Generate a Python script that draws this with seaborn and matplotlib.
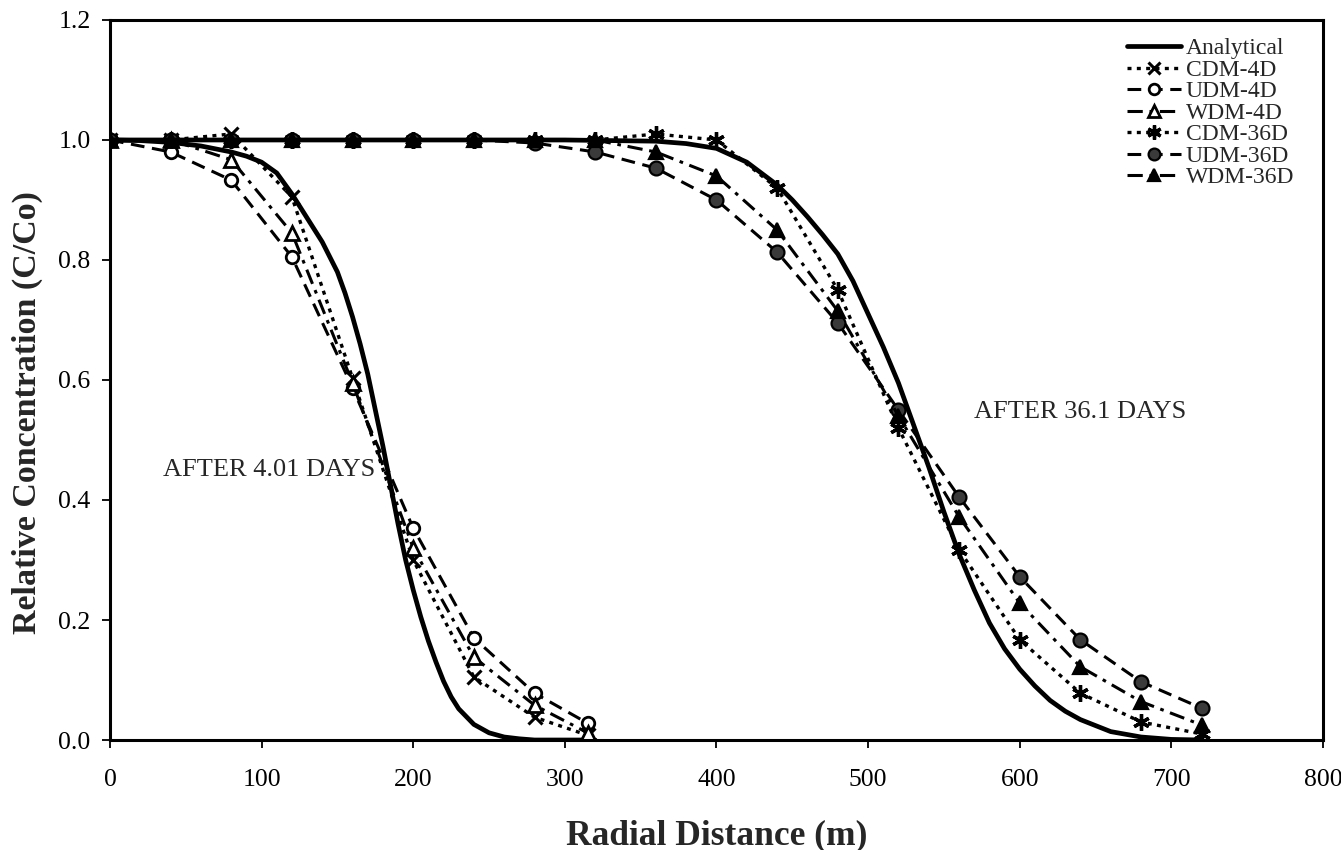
import matplotlib
matplotlib.use("Agg")
import matplotlib.pyplot as plt
import pandas as pd
import seaborn as sns

# Radial distances (m) of the numerical solution nodes
x_4d = [0, 40, 80, 120, 160, 200, 240, 280, 315]
x_36d = [0, 40, 80, 120, 160, 200, 240, 280, 320, 360,
         400, 440, 480, 520, 560, 600, 640, 680, 720]

# Numerical schemes after 4.01 days
cdm_4d = [1.0, 1.0, 1.01, 0.905, 0.603, 0.30, 0.105, 0.038, 0.008]
udm_4d = [1.0, 0.98, 0.933, 0.805, 0.587, 0.353, 0.17, 0.078, 0.028]
wdm_4d = [1.0, 1.0, 0.967, 0.845, 0.595, 0.32, 0.138, 0.058, 0.012]

# Numerical schemes after 36.1 days
cdm_36d = [1.0, 1.0, 1.0, 1.0, 1.0, 1.0, 1.0, 1.0, 1.0, 1.01,
           1.0, 0.92, 0.75, 0.52, 0.317, 0.167, 0.078, 0.03, 0.01]
udm_36d = [1.0, 1.0, 1.0, 1.0, 1.0, 1.0, 1.0, 0.995, 0.98, 0.953,
           0.90, 0.813, 0.695, 0.55, 0.405, 0.272, 0.167, 0.097, 0.053]
wdm_36d = [1.0, 1.0, 1.0, 1.0, 1.0, 1.0, 1.0, 1.0, 1.0, 0.98,
           0.94, 0.85, 0.715, 0.54, 0.372, 0.228, 0.122, 0.064, 0.025]

# Analytical solution profiles
ana_x_4d = [0, 20, 40, 60, 80, 90, 100, 110, 120, 130, 140, 150, 155, 160,
            165, 170, 175, 180, 185, 190, 195, 200, 205, 210, 215, 220, 225,
            230, 240, 250, 260, 270, 280, 300, 320]
ana_4d = [1.0, 0.999, 0.996, 0.99, 0.98, 0.973, 0.963, 0.945, 0.91, 0.87,
          0.83, 0.78, 0.745, 0.705, 0.66, 0.61, 0.55, 0.49, 0.425, 0.36,
          0.30, 0.25, 0.205, 0.165, 0.13, 0.098, 0.072, 0.052, 0.026, 0.012,
          0.005, 0.002, 0.0, 0.0, 0.0]
ana_x_36d = [0, 100, 200, 300, 360, 380, 400, 420, 440, 450, 460, 470, 480,
             490, 500, 510, 520, 530, 540, 550, 560, 570, 580, 590, 600, 610,
             620, 630, 640, 660, 680, 700, 720]
ana_36d = [1.0, 1.0, 1.0, 1.0, 0.998, 0.994, 0.986, 0.963, 0.925, 0.90,
           0.872, 0.842, 0.81, 0.765, 0.71, 0.655, 0.595, 0.525, 0.455, 0.38,
           0.31, 0.25, 0.195, 0.152, 0.118, 0.09, 0.066, 0.048, 0.034, 0.014,
           0.005, 0.001, 0.0]

x_ticks = [0, 100, 200, 300, 400, 500, 600, 700, 800]
y_ticks = [0.0, 0.2, 0.4, 0.6, 0.8, 1.0, 1.2]

sns.set_theme(style="ticks")
plt.rcParams["font.family"] = ["Liberation Serif", "DejaVu Serif"]

fig = plt.figure(figsize=(13.41, 8.5), dpi=100)
ax = fig.add_axes([0.082, 0.1294, 0.9046, 0.8471])

dot = (0, (1.2, 1.6))
dash = (0, (4.5, 2.5))
dashdot = (0, (5, 2.2, 1.2, 2.2))
asterisk = (6, 2, 0)

common = dict(color="black", markeredgecolor="black")
series = [
    ("Analytical", ana_x_4d, ana_4d, dict(linestyle="-", linewidth=3.4)),
    ("CDM-4D", x_4d, cdm_4d, dict(linestyle=dot, linewidth=2.4, marker="x",
                                  markersize=10, markeredgewidth=2.2)),
    ("UDM-4D", x_4d, udm_4d, dict(linestyle=dash, linewidth=2.2, marker="o",
                                  markersize=9, markeredgewidth=2.0,
                                  markerfacecolor="white")),
    ("WDM-4D", x_4d, wdm_4d, dict(linestyle=dashdot, linewidth=2.2, marker="^",
                                  markersize=10, markeredgewidth=2.0,
                                  markerfacecolor="white")),
    ("CDM-36D", x_36d, cdm_36d, dict(linestyle=dot, linewidth=2.4,
                                     marker=asterisk, markersize=12,
                                     markeredgewidth=2.4)),
    ("UDM-36D", x_36d, udm_36d, dict(linestyle=dash, linewidth=2.2, marker="o",
                                     markersize=10, markeredgewidth=1.6,
                                     markerfacecolor="#3a3a3a")),
    ("WDM-36D", x_36d, wdm_36d, dict(linestyle=dashdot, linewidth=2.2,
                                     marker="^", markersize=10,
                                     markeredgewidth=1.6,
                                     markerfacecolor="black")),
]

handles = {}
for name, xs, ys, style in series:
    n_before = len(ax.get_lines())
    df = pd.DataFrame({"r": xs, "c": ys})
    sns.lineplot(data=df, x="r", y="c", ax=ax, sort=False, legend=False,
                 **common, **style)
    handles[name] = ax.get_lines()[n_before]

# Second analytical profile (shares the legend entry)
df_a36 = pd.DataFrame({"r": ana_x_36d, "c": ana_36d})
sns.lineplot(data=df_a36, x="r", y="c", ax=ax, sort=False, legend=False,
             linestyle="-", linewidth=3.4, **common)

ax.set_xlim(0, 800)
ax.set_ylim(0.0, 1.2)
ax.set_xticks(x_ticks)
ax.set_yticks(y_ticks)
ax.set_xticklabels([f"{v:d}" for v in x_ticks])
ax.set_yticklabels([f"{v:.1f}" for v in y_ticks])
ax.tick_params(direction="out", length=6, width=1.3, labelsize=18.5,
               colors="black")
ax.tick_params(axis="x", pad=15)
ax.tick_params(axis="y", pad=8)
for side in ["left", "right", "top", "bottom"]:
    ax.spines[side].set_visible(True)
    ax.spines[side].set_color("black")
    ax.spines[side].set_linewidth(2.2)

ax.set_xlabel("Radial Distance (m)", fontsize=25.5, fontweight="bold",
              labelpad=20)
ax.set_ylabel("Relative Concentration (C/Co)", fontsize=24.5,
              fontweight="bold")
ax.yaxis.set_label_coords(-0.055, 0.455)

ax.text(35, 0.45, "AFTER 4.01 DAYS", fontsize=19, ha="left", va="center")
ax.text(570, 0.547, "AFTER 36.1 DAYS", fontsize=19, ha="left", va="center")

order = ["Analytical", "CDM-4D", "UDM-4D", "WDM-4D",
         "CDM-36D", "UDM-36D", "WDM-36D"]
ax.legend([handles[k] for k in order], order, loc="upper right",
          bbox_to_anchor=(0.988, 0.995), frameon=False, fontsize=17,
          labelspacing=0.0, handlelength=2.3, handletextpad=0.2,
          borderaxespad=0.2, markerscale=0.85)

fig.savefig("out.png", dpi=100, facecolor="white")
